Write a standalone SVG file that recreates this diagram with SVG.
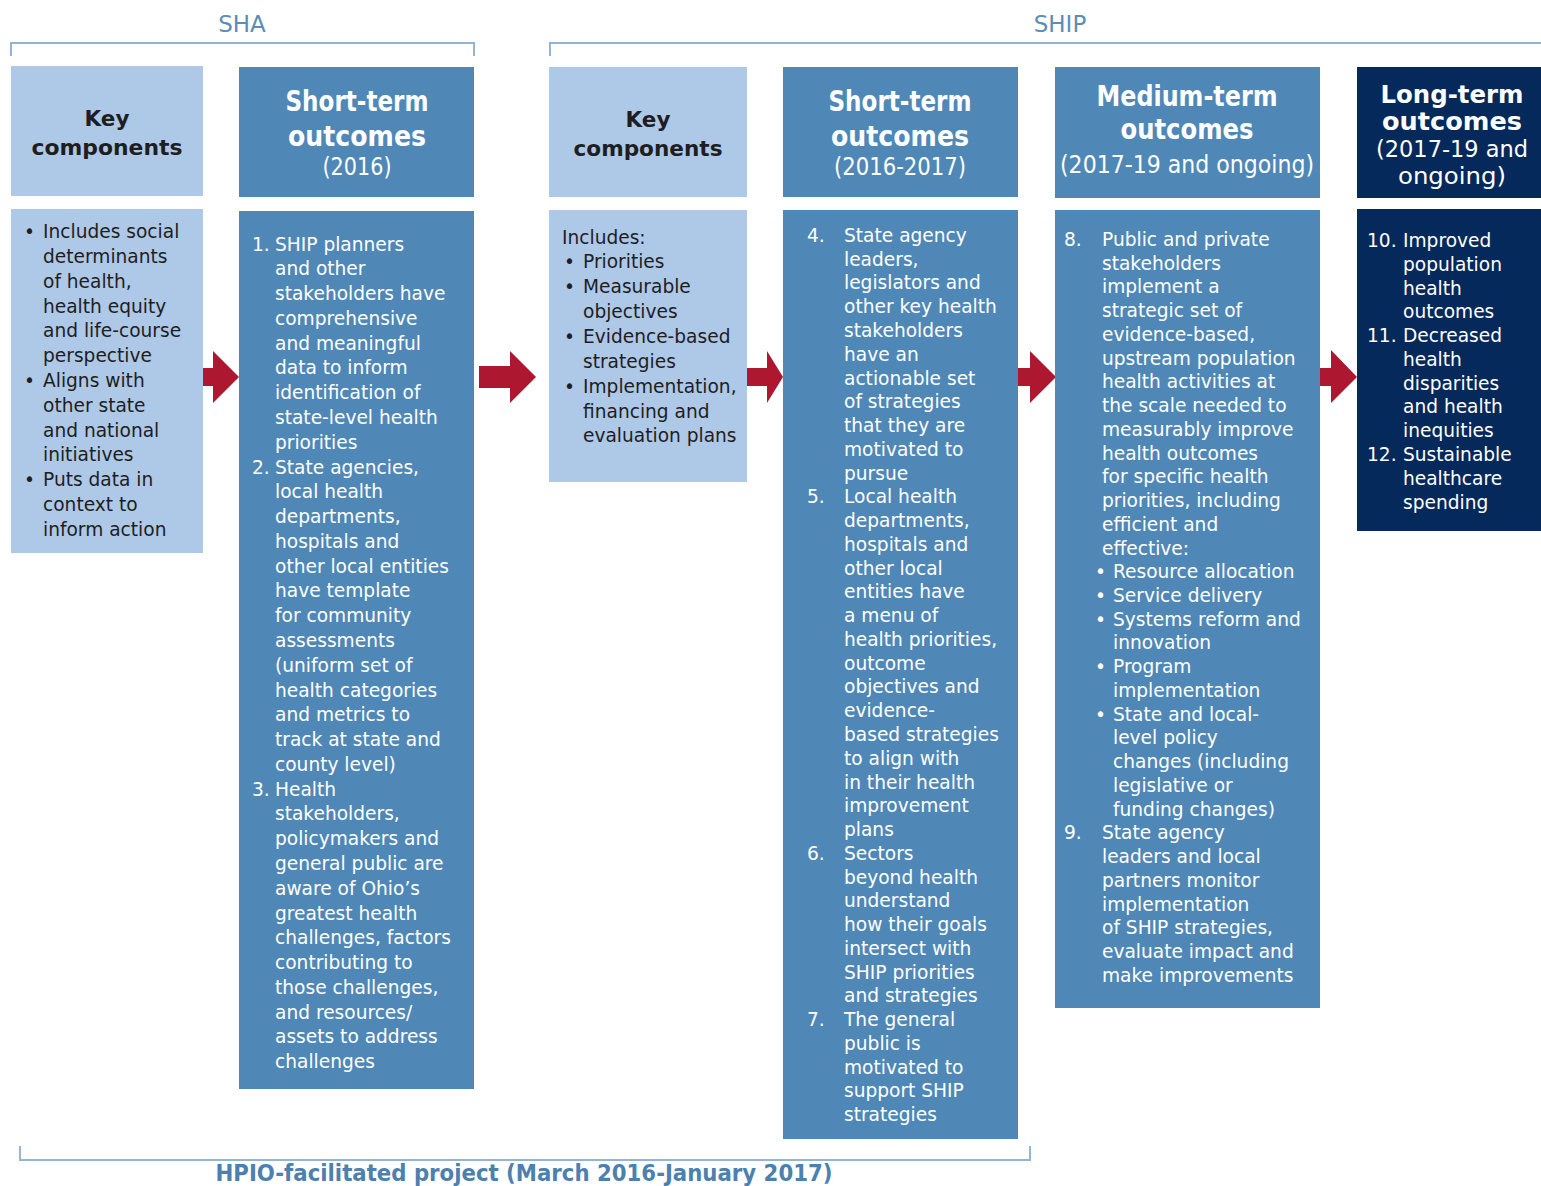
<svg xmlns="http://www.w3.org/2000/svg" width="1541" height="1186" viewBox="0 0 1541 1186">
<style>
.lt{fill:#AEC8E8}
.md{fill:#4F88B6}
.dk{fill:#04295A}
.hd{font-family:"DejaVu Sans",sans-serif;font-weight:bold;text-anchor:middle}
.hr{font-family:"DejaVu Sans",sans-serif;text-anchor:middle}
.b{font-family:"DejaVu Sans",sans-serif;font-size:18.6px}
.w{fill:#FFFFFF}
.k{fill:#1E1E1E}
.br{fill:none;stroke:#93B5D3;stroke-width:2}
.ar{fill:#AD1730}
.lbl{font-family:"DejaVu Sans",sans-serif;fill:#5B8DB8;font-size:23px;text-anchor:middle}
</style>
<g id="brackets">
<text class="lbl" x="242" y="32">SHA</text>
<path class="br" d="M11,56 V43 H474 V56"/>
<text class="lbl" x="1060" y="32">SHIP</text>
<path class="br" d="M550,56 V43 H1541"/>
<path class="br" d="M20,1146 V1160 H1030 V1146"/>
<text x="524" y="1181" font-family="DejaVu Sans,sans-serif" font-weight="bold" font-size="23" fill="#4C80AE" text-anchor="middle" textLength="617" lengthAdjust="spacingAndGlyphs">HPIO-facilitated project (March 2016-January 2017)</text>
</g>
<g id="connectors">
<polygon class="ar" points="203,368 213,368 213,351 239,377 213,403 213,386 203,386"/>
<polygon class="ar" points="479,366 510,366 510,351 536,377 510,403 510,388 479,388"/>
<polygon class="ar" points="747,368 767,368 767,351 783,377 767,403 767,386 747,386"/>
<polygon class="ar" points="1018,368 1030,368 1030,351 1056,377 1030,403 1030,386 1018,386"/>
<polygon class="ar" points="1320,368 1331,368 1331,350 1357,377 1331,403 1331,386 1320,386"/>
</g>
<g id="sha-key">
<rect class="lt" x="11" y="66" width="192" height="130"/>
<text class="hd k" font-size="22" x="107" y="126" textLength="45" lengthAdjust="spacingAndGlyphs">Key</text>
<text class="hd k" font-size="22" x="107" y="155" textLength="151" lengthAdjust="spacingAndGlyphs">components</text>
<rect class="lt" x="11" y="209" width="192" height="344"/>
<g class="b k">
<text x="24" y="238">•</text><text x="43" y="238">Includes social</text>
<text x="43" y="263">determinants</text>
<text x="43" y="288">of health,</text>
<text x="43" y="313">health equity</text>
<text x="43" y="337">and life-course</text>
<text x="43" y="362">perspective</text>
<text x="24" y="387">•</text><text x="43" y="387">Aligns with</text>
<text x="43" y="412">other state</text>
<text x="43" y="437">and national</text>
<text x="43" y="461">initiatives</text>
<text x="24" y="486">•</text><text x="43" y="486">Puts data in</text>
<text x="43" y="511">context to</text>
<text x="43" y="536">inform action</text>
</g>
</g>
<g id="sha-short">
<rect class="md" x="239" y="67" width="235" height="130"/>
<text class="hd w" font-size="28" x="357" y="111" textLength="143" lengthAdjust="spacingAndGlyphs">Short-term</text>
<text class="hd w" font-size="28" x="357" y="146" textLength="138" lengthAdjust="spacingAndGlyphs">outcomes</text>
<text class="hr w" font-size="25" x="357" y="175" textLength="69" lengthAdjust="spacingAndGlyphs">(2016)</text>
<rect class="md" x="239" y="211" width="235" height="878"/>
<g class="b w">
<text x="252" y="251">1.</text><text x="275" y="251">SHIP planners</text>
<text x="275" y="275">and other</text>
<text x="275" y="300">stakeholders have</text>
<text x="275" y="325">comprehensive</text>
<text x="275" y="350">and meaningful</text>
<text x="275" y="374">data to inform</text>
<text x="275" y="399">identification of</text>
<text x="275" y="424">state-level health</text>
<text x="275" y="449">priorities</text>
<text x="252" y="474">2.</text><text x="275" y="474">State agencies,</text>
<text x="275" y="498">local health</text>
<text x="275" y="523">departments,</text>
<text x="275" y="548">hospitals and</text>
<text x="275" y="573">other local entities</text>
<text x="275" y="597">have template</text>
<text x="275" y="622">for community</text>
<text x="275" y="647">assessments</text>
<text x="275" y="672">(uniform set of</text>
<text x="275" y="697">health categories</text>
<text x="275" y="721">and metrics to</text>
<text x="275" y="746">track at state and</text>
<text x="275" y="771">county level)</text>
<text x="252" y="796">3.</text><text x="275" y="796">Health</text>
<text x="275" y="820">stakeholders,</text>
<text x="275" y="845">policymakers and</text>
<text x="275" y="870">general public are</text>
<text x="275" y="895">aware of Ohio’s</text>
<text x="275" y="920">greatest health</text>
<text x="275" y="944">challenges, factors</text>
<text x="275" y="969">contributing to</text>
<text x="275" y="994">those challenges,</text>
<text x="275" y="1019">and resources/</text>
<text x="275" y="1043">assets to address</text>
<text x="275" y="1068">challenges</text>
</g>
</g>
<g id="ship-key">
<rect class="lt" x="549" y="67" width="198" height="130"/>
<text class="hd k" font-size="22" x="648" y="127" textLength="45" lengthAdjust="spacingAndGlyphs">Key</text>
<text class="hd k" font-size="22" x="648" y="156" textLength="149" lengthAdjust="spacingAndGlyphs">components</text>
<rect class="lt" x="549" y="210" width="198" height="272"/>
<g class="b k">
<text x="562" y="244">Includes:</text>
<text x="564" y="268">•</text><text x="583" y="268">Priorities</text>
<text x="564" y="293">•</text><text x="583" y="293">Measurable</text>
<text x="583" y="318">objectives</text>
<text x="564" y="343">•</text><text x="583" y="343">Evidence-based</text>
<text x="583" y="368">strategies</text>
<text x="564" y="393">•</text><text x="583" y="393">Implementation,</text>
<text x="583" y="418">financing and</text>
<text x="583" y="442">evaluation plans</text>
</g>
</g>
<g id="ship-short">
<rect class="md" x="783" y="67" width="235" height="130"/>
<text class="hd w" font-size="28" x="900" y="111" textLength="143" lengthAdjust="spacingAndGlyphs">Short-term</text>
<text class="hd w" font-size="28" x="900" y="146" textLength="138" lengthAdjust="spacingAndGlyphs">outcomes</text>
<text class="hr w" font-size="25" x="900" y="175" textLength="132" lengthAdjust="spacingAndGlyphs">(2016-2017)</text>
<rect class="md" x="783" y="210" width="235" height="929"/>
<g class="b w">
<text x="807" y="242">4.</text><text x="844" y="242">State agency</text>
<text x="844" y="266">leaders,</text>
<text x="844" y="289">legislators and</text>
<text x="844" y="313">other key health</text>
<text x="844" y="337">stakeholders</text>
<text x="844" y="361">have an</text>
<text x="844" y="385">actionable set</text>
<text x="844" y="408">of strategies</text>
<text x="844" y="432">that they are</text>
<text x="844" y="456">motivated to</text>
<text x="844" y="480">pursue</text>
<text x="807" y="503">5.</text><text x="844" y="503">Local health</text>
<text x="844" y="527">departments,</text>
<text x="844" y="551">hospitals and</text>
<text x="844" y="575">other local</text>
<text x="844" y="598">entities have</text>
<text x="844" y="622">a menu of</text>
<text x="844" y="646">health priorities,</text>
<text x="844" y="670">outcome</text>
<text x="844" y="693">objectives and</text>
<text x="844" y="717">evidence-</text>
<text x="844" y="741">based strategies</text>
<text x="844" y="765">to align with</text>
<text x="844" y="789">in their health</text>
<text x="844" y="812">improvement</text>
<text x="844" y="836">plans</text>
<text x="807" y="860">6.</text><text x="844" y="860">Sectors</text>
<text x="844" y="884">beyond health</text>
<text x="844" y="907">understand</text>
<text x="844" y="931">how their goals</text>
<text x="844" y="955">intersect with</text>
<text x="844" y="979">SHIP priorities</text>
<text x="844" y="1002">and strategies</text>
<text x="807" y="1026">7.</text><text x="844" y="1026">The general</text>
<text x="844" y="1050">public is</text>
<text x="844" y="1074">motivated to</text>
<text x="844" y="1097">support SHIP</text>
<text x="844" y="1121">strategies</text>
</g>
</g>
<g id="ship-medium">
<rect class="md" x="1055" y="67" width="265" height="131"/>
<text class="hd w" font-size="28" x="1187" y="106" textLength="181" lengthAdjust="spacingAndGlyphs">Medium-term</text>
<text class="hd w" font-size="28" x="1187" y="139" textLength="133" lengthAdjust="spacingAndGlyphs">outcomes</text>
<text class="hr w" font-size="25" x="1187" y="173" textLength="254" lengthAdjust="spacingAndGlyphs">(2017-19 and ongoing)</text>
<rect class="md" x="1055" y="210" width="265" height="798"/>
<g class="b w">
<text x="1064" y="246">8.</text><text x="1102" y="246">Public and private</text>
<text x="1102" y="270">stakeholders</text>
<text x="1102" y="293">implement a</text>
<text x="1102" y="317">strategic set of</text>
<text x="1102" y="341">evidence-based,</text>
<text x="1102" y="365">upstream population</text>
<text x="1102" y="388">health activities at</text>
<text x="1102" y="412">the scale needed to</text>
<text x="1102" y="436">measurably improve</text>
<text x="1102" y="460">health outcomes</text>
<text x="1102" y="483">for specific health</text>
<text x="1102" y="507">priorities, including</text>
<text x="1102" y="531">efficient and</text>
<text x="1102" y="555">effective:</text>
<text x="1095" y="578">•</text><text x="1113" y="578">Resource allocation</text>
<text x="1095" y="602">•</text><text x="1113" y="602">Service delivery</text>
<text x="1095" y="626">•</text><text x="1113" y="626">Systems reform and</text>
<text x="1113" y="649">innovation</text>
<text x="1095" y="673">•</text><text x="1113" y="673">Program</text>
<text x="1113" y="697">implementation</text>
<text x="1095" y="721">•</text><text x="1113" y="721">State and local-</text>
<text x="1113" y="744">level policy</text>
<text x="1113" y="768">changes (including</text>
<text x="1113" y="792">legislative or</text>
<text x="1113" y="816">funding changes)</text>
<text x="1064" y="839">9.</text><text x="1102" y="839">State agency</text>
<text x="1102" y="863">leaders and local</text>
<text x="1102" y="887">partners monitor</text>
<text x="1102" y="911">implementation</text>
<text x="1102" y="934">of SHIP strategies,</text>
<text x="1102" y="958">evaluate impact and</text>
<text x="1102" y="982">make improvements</text>
</g>
</g>
<g id="ship-long">
<rect class="dk" x="1357" y="67" width="184" height="131"/>
<text class="hd w" font-size="25" x="1452" y="103" textLength="143" lengthAdjust="spacingAndGlyphs">Long-term</text>
<text class="hd w" font-size="25" x="1452" y="130" textLength="140" lengthAdjust="spacingAndGlyphs">outcomes</text>
<text class="hr w" font-size="23" x="1452" y="157" textLength="152" lengthAdjust="spacingAndGlyphs">(2017-19 and</text>
<text class="hr w" font-size="23" x="1452" y="184" textLength="108" lengthAdjust="spacingAndGlyphs">ongoing)</text>
<rect class="dk" x="1357" y="209" width="184" height="322"/>
<g class="b w">
<text x="1367" y="247">10.</text><text x="1403" y="247">Improved</text>
<text x="1403" y="271">population</text>
<text x="1403" y="295">health</text>
<text x="1403" y="318">outcomes</text>
<text x="1367" y="342">11.</text><text x="1403" y="342">Decreased</text>
<text x="1403" y="366">health</text>
<text x="1403" y="390">disparities</text>
<text x="1403" y="413">and health</text>
<text x="1403" y="437">inequities</text>
<text x="1367" y="461">12.</text><text x="1403" y="461">Sustainable</text>
<text x="1403" y="485">healthcare</text>
<text x="1403" y="509">spending</text>
</g>
</g>
</svg>
